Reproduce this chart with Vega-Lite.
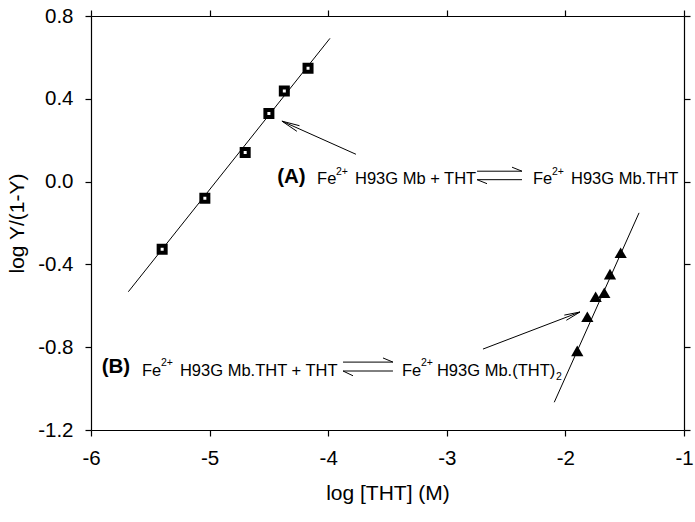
{
  "$schema": "https://vega.github.io/schema/vega-lite/v6.json",
  "width": 593,
  "height": 414,
  "autosize": {"type": "none"},
  "padding": {"left": 91, "top": 16, "right": 11, "bottom": 92},
  "background": "white",
  "config": {
    "view": {"stroke": null},
    "font": "Liberation Sans",
    "axis": {
      "domainColor": "black", "tickColor": "black", "labelColor": "black", "titleColor": "black",
      "domainWidth": 1.2, "tickWidth": 1.2, "tickSize": 6, "grid": false,
      "labelFont": "Liberation Sans", "titleFont": "Liberation Sans",
      "labelFontSize": 20.5, "titleFontSize": 21, "titleFontWeight": "normal"
    }
  },
  "datasets": {
    "segs": [
      {"part": "fitA", "x": -5.685, "y": -0.532, "x2": -3.985, "y2": 0.692},
      {"part": "fitB", "x": -2.094, "y": -1.066, "x2": -1.379, "y2": -0.151},
      {"part": "arrowA", "x": -3.766, "y": 0.132, "x2": -4.39, "y2": 0.292},
      {"part": "arrowA", "x": -4.242, "y": 0.27, "x2": -4.39, "y2": 0.292},
      {"part": "arrowA", "x": -4.264, "y": 0.243, "x2": -4.39, "y2": 0.292},
      {"part": "arrowB", "x": -2.695, "y": -0.809, "x2": -1.877, "y2": -0.63},
      {"part": "arrowB", "x": -1.992, "y": -0.67, "x2": -1.877, "y2": -0.63},
      {"part": "arrowB", "x": -2.009, "y": -0.645, "x2": -1.877, "y2": -0.63},
      {"part": "eqA", "x": -2.745, "y": 0.0503, "x2": -2.366, "y2": 0.0503},
      {"part": "eqA", "x": -2.45, "y": 0.0696, "x2": -2.366, "y2": 0.0503},
      {"part": "eqA", "x": -2.745, "y": 0.0093, "x2": -2.366, "y2": 0.0093},
      {"part": "eqA", "x": -2.745, "y": 0.0093, "x2": -2.661, "y2": -0.01},
      {"part": "eqB", "x": -3.875, "y": -0.872, "x2": -3.454, "y2": -0.872},
      {"part": "eqB", "x": -3.538, "y": -0.852, "x2": -3.454, "y2": -0.872},
      {"part": "eqB", "x": -3.875, "y": -0.915, "x2": -3.454, "y2": -0.915},
      {"part": "eqB", "x": -3.875, "y": -0.915, "x2": -3.791, "y2": -0.938}
    ],
    "pts": [
      {"set": "A", "logTHT": -5.40, "logY": -0.327},
      {"set": "A", "logTHT": -5.04, "logY": -0.081},
      {"set": "A", "logTHT": -4.70, "logY": 0.141},
      {"set": "A", "logTHT": -4.50, "logY": 0.329},
      {"set": "A", "logTHT": -4.37, "logY": 0.438},
      {"set": "A", "logTHT": -4.17, "logY": 0.548},
      {"set": "B", "logTHT": -1.90, "logY": -0.818},
      {"set": "B", "logTHT": -1.815, "logY": -0.653},
      {"set": "B", "logTHT": -1.745, "logY": -0.556},
      {"set": "B", "logTHT": -1.672, "logY": -0.537},
      {"set": "B", "logTHT": -1.624, "logY": -0.447},
      {"set": "B", "logTHT": -1.534, "logY": -0.344}
    ],
    "bold": [
      {"t": "(A)", "x": -4.43, "y": 0.022},
      {"t": "(B)", "x": -5.91, "y": -0.898}
    ],
    "main": [
      {"t": "Fe", "x": -4.094, "y": 0.012},
      {"t": "H93G Mb + THT", "x": -3.774, "y": 0.012},
      {"t": "Fe", "x": -2.273, "y": 0.012},
      {"t": "H93G Mb.THT", "x": -1.953, "y": 0.012},
      {"t": "Fe", "x": -5.57, "y": -0.915},
      {"t": "H93G Mb.THT + THT", "x": -5.25, "y": -0.915},
      {"t": "Fe", "x": -3.378, "y": -0.915},
      {"t": "H93G Mb.(THT)", "x": -3.083, "y": -0.915}
    ],
    "small": [
      {"t": "2+", "x": -3.934, "y": 0.048},
      {"t": "2+", "x": -2.113, "y": 0.048},
      {"t": "2+", "x": -5.41, "y": -0.877},
      {"t": "2+", "x": -3.218, "y": -0.877},
      {"t": "2", "x": -2.079, "y": -0.944}
    ]
  },
  "resolve": {"axis": {"x": "independent", "y": "independent"}},
  "layer": [
    {
      "data": {"name": "segs"},
      "mark": {"type": "rule", "color": "black", "strokeWidth": 1},
      "encoding": {
        "x": {"field": "x", "type": "quantitative",
              "scale": {"domain": [-6, -1], "nice": false, "zero": false},
              "axis": {"orient": "bottom", "values": [-6, -5, -4, -3, -2, -1], "title": "log [THT] (M)",
                       "labelExpr": "replace(format(datum.value, 'd'), '\u2212', '-')",
                       "labelPadding": 12, "titlePadding": 14, "labelFlush": false}},
        "y": {"field": "y", "type": "quantitative",
              "scale": {"domain": [-1.2, 0.8], "nice": false, "zero": false},
              "axis": {"orient": "left", "values": [-1.2, -0.8, -0.4, 0, 0.4, 0.8], "title": "log Y/(1-Y)",
                       "labelExpr": "replace(format(datum.value, '.1f'), '\u2212', '-')",
                       "labelPadding": 12, "titlePadding": 10, "labelFlush": false}},
        "x2": {"field": "x2"},
        "y2": {"field": "y2"}
      }
    },
    {
      "data": {"name": "pts"},
      "transform": [{"filter": "datum.set === 'A'"}],
      "mark": {"type": "point", "shape": "square", "filled": false, "fill": "white", "stroke": "black", "strokeWidth": 4, "size": 49, "opacity": 1},
      "encoding": {
        "x": {"field": "logTHT", "type": "quantitative",
              "axis": {"orient": "top", "values": [-6, -5, -4, -3, -2, -1], "labels": false, "title": null}},
        "y": {"field": "logY", "type": "quantitative",
              "axis": {"orient": "right", "values": [-1.2, -0.8, -0.4, 0, 0.4, 0.8], "labels": false, "title": null}}
      }
    },
    {
      "data": {"name": "pts"},
      "transform": [{"filter": "datum.set === 'B'"}],
      "mark": {"type": "point", "shape": "triangle-up", "filled": true, "color": "black", "size": 150, "opacity": 1},
      "encoding": {
        "x": {"field": "logTHT", "type": "quantitative", "axis": null},
        "y": {"field": "logY", "type": "quantitative", "axis": null}
      }
    },
    {
      "data": {"name": "bold"},
      "mark": {"type": "text", "align": "left", "baseline": "middle", "fontSize": 20.5, "fontWeight": "bold", "color": "black"},
      "encoding": {
        "x": {"field": "x", "type": "quantitative", "axis": null},
        "y": {"field": "y", "type": "quantitative", "axis": null},
        "text": {"field": "t"}
      }
    },
    {
      "data": {"name": "main"},
      "mark": {"type": "text", "align": "left", "baseline": "middle", "fontSize": 16.5, "color": "black"},
      "encoding": {
        "x": {"field": "x", "type": "quantitative", "axis": null},
        "y": {"field": "y", "type": "quantitative", "axis": null},
        "text": {"field": "t"}
      }
    },
    {
      "data": {"name": "small"},
      "mark": {"type": "text", "align": "left", "baseline": "middle", "fontSize": 10.5, "color": "black"},
      "encoding": {
        "x": {"field": "x", "type": "quantitative", "axis": null},
        "y": {"field": "y", "type": "quantitative", "axis": null},
        "text": {"field": "t"}
      }
    }
  ]
}
